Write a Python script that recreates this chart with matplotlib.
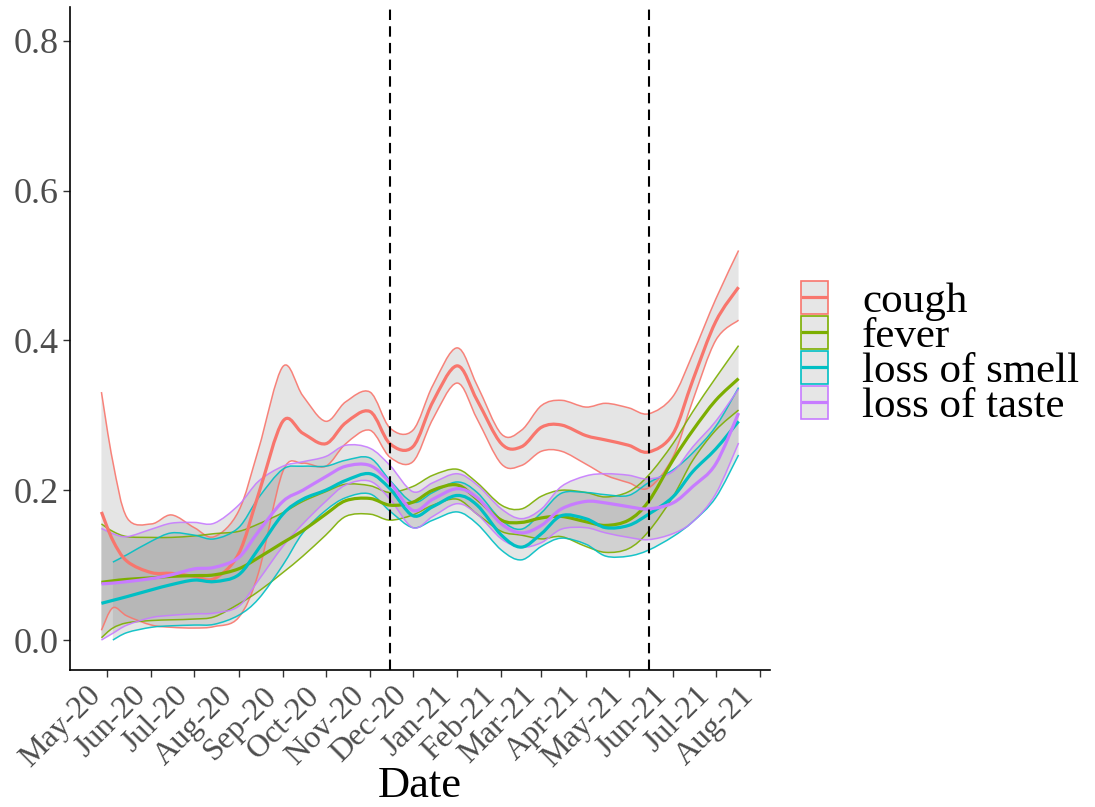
import numpy as np
import matplotlib
matplotlib.use("Agg")
import matplotlib.pyplot as plt
import matplotlib.dates as mdates
from matplotlib.patches import Rectangle, PathPatch
from matplotlib.lines import Line2D
from matplotlib.path import Path

plt.rcParams['font.family'] = ['Liberation Serif', 'DejaVu Serif']

# sample dates
dates = ["2020-04-27", "2020-05-05", "2020-05-15", "2020-06-01", "2020-06-15",
         "2020-07-01", "2020-07-15", "2020-08-01", "2020-08-15", "2020-09-01",
         "2020-09-15", "2020-10-01", "2020-10-15", "2020-11-01", "2020-11-15",
         "2020-12-01", "2020-12-15", "2021-01-01", "2021-01-15", "2021-02-01",
         "2021-02-15", "2021-03-01", "2021-03-15", "2021-04-01", "2021-04-15",
         "2021-05-01", "2021-05-15", "2021-06-01", "2021-06-15", "2021-07-01",
         "2021-07-17"]

cough_mean = [0.171, 0.133, 0.105, 0.090, 0.089, 0.085, 0.082, 0.115, 0.195, 0.292,
              0.276, 0.262, 0.290, 0.305, 0.262, 0.258, 0.318, 0.366, 0.320, 0.262,
              0.258, 0.284, 0.287, 0.273, 0.267, 0.260, 0.251, 0.275, 0.347, 0.425,
              0.471]
cough_upper = [0.331, 0.238, 0.163, 0.155, 0.167, 0.150, 0.138, 0.172, 0.255, 0.365,
               0.326, 0.292, 0.318, 0.331, 0.283, 0.280, 0.340, 0.390, 0.340, 0.275,
               0.280, 0.313, 0.320, 0.311, 0.316, 0.310, 0.302, 0.325, 0.382, 0.455,
               0.520]
cough_lower = [0.013, 0.043, 0.032, 0.020, 0.017, 0.016, 0.018, 0.030, 0.090, 0.225,
               0.236, 0.232, 0.262, 0.280, 0.244, 0.238, 0.295, 0.343, 0.295, 0.235,
               0.233, 0.252, 0.252, 0.235, 0.220, 0.210, 0.203, 0.244, 0.320, 0.400,
               0.427]

fever_mean = [0.077, 0.079, 0.081, 0.083, 0.085, 0.086, 0.087, 0.095, 0.110, 0.130,
              0.146, 0.168, 0.186, 0.189, 0.180, 0.184, 0.200, 0.207, 0.188, 0.160,
              0.157, 0.163, 0.165, 0.158, 0.153, 0.160, 0.185, 0.240, 0.280, 0.320,
              0.349]
fever_upper = [0.155, 0.145, 0.138, 0.137, 0.137, 0.139, 0.142, 0.145, 0.155, 0.170,
               0.185, 0.198, 0.208, 0.206, 0.197, 0.205, 0.220, 0.228, 0.210, 0.180,
               0.175, 0.192, 0.200, 0.197, 0.191, 0.198, 0.220, 0.262, 0.305, 0.350,
               0.393]
fever_lower = [0.003, 0.016, 0.023, 0.026, 0.027, 0.028, 0.031, 0.048, 0.065, 0.090,
               0.112, 0.140, 0.165, 0.168, 0.160, 0.167, 0.180, 0.188, 0.168, 0.145,
               0.140, 0.135, 0.138, 0.125, 0.117, 0.122, 0.145, 0.191, 0.240, 0.280,
               0.307]

smell_mean = [0.049, 0.053, 0.058, 0.067, 0.074, 0.080, 0.078, 0.087, 0.122, 0.168,
              0.188, 0.200, 0.213, 0.222, 0.202, 0.166, 0.178, 0.193, 0.180, 0.140,
              0.124, 0.142, 0.166, 0.162, 0.150, 0.153, 0.168, 0.191, 0.225, 0.255,
              0.292]
smell_upper = [np.nan, 0.104, 0.114, 0.132, 0.143, 0.140, 0.135, 0.150, 0.190, 0.228,
               0.232, 0.232, 0.240, 0.243, 0.213, 0.184, 0.197, 0.211, 0.197, 0.160,
               0.148, 0.170, 0.196, 0.197, 0.194, 0.193, 0.210, 0.227, 0.250, 0.285,
               0.337]
smell_lower = [np.nan, 0.000, 0.010, 0.017, 0.019, 0.020, 0.021, 0.033, 0.055, 0.100,
               0.143, 0.173, 0.190, 0.195, 0.172, 0.150, 0.160, 0.171, 0.155, 0.120,
               0.107, 0.125, 0.136, 0.128, 0.112, 0.112, 0.120, 0.138, 0.158, 0.190,
               0.247]

taste_mean = [0.075, 0.076, 0.078, 0.082, 0.087, 0.095, 0.097, 0.110, 0.145, 0.185,
              0.200, 0.218, 0.232, 0.233, 0.210, 0.173, 0.188, 0.202, 0.190, 0.155,
              0.143, 0.153, 0.175, 0.185, 0.183, 0.178, 0.175, 0.183, 0.205, 0.235,
              0.303]
taste_upper = [0.149, 0.142, 0.138, 0.148, 0.156, 0.157, 0.156, 0.180, 0.212, 0.232,
               0.238, 0.245, 0.260, 0.256, 0.233, 0.198, 0.210, 0.222, 0.207, 0.175,
               0.162, 0.175, 0.205, 0.219, 0.222, 0.220, 0.215, 0.225, 0.258, 0.292,
               0.335]
taste_lower = [0.000, 0.009, 0.020, 0.030, 0.033, 0.035, 0.036, 0.045, 0.080, 0.125,
               0.155, 0.185, 0.207, 0.212, 0.188, 0.150, 0.165, 0.182, 0.168, 0.135,
               0.124, 0.130, 0.148, 0.150, 0.143, 0.137, 0.134, 0.142, 0.158, 0.195,
               0.263]

labels = ["cough", "fever", "loss of smell", "loss of taste"]
colors = ["#F8766D", "#7CAE00", "#00BFC4", "#C77CFF"]
period_breaks = ["2020-11-15", "2021-05-15"]
month_ticks = ["2020-05-01", "2020-06-01", "2020-07-01", "2020-08-01", "2020-09-01",
               "2020-10-01", "2020-11-01", "2020-12-01", "2021-01-01", "2021-02-01",
               "2021-03-01", "2021-04-01", "2021-05-01", "2021-06-01", "2021-07-01",
               "2021-08-01"]

series = [(cough_mean, cough_lower, cough_upper),
          (fever_mean, fever_lower, fever_upper),
          (smell_mean, smell_lower, smell_upper),
          (taste_mean, taste_lower, taste_upper)]


def smooth_verts(x, y):
    # cubic bezier pieces through the read points (drawn by matplotlib's Path)
    p = np.column_stack([x, y])
    ext = np.vstack([p[0], p, p[-1]])
    verts = [p[0]]
    for i in range(len(p) - 1):
        p0, p1, p2, p3 = ext[i], ext[i + 1], ext[i + 2], ext[i + 3]
        verts += [p1 + (p2 - p0) / 6, p2 - (p3 - p1) / 6, p2]
    return verts


def curve_path(x, y):
    v = smooth_verts(x, y)
    codes = [Path.MOVETO] + [Path.CURVE4] * (len(v) - 1)
    return Path(v, codes)


def band_path(x, lo, hi):
    up = smooth_verts(x, hi)
    dn = smooth_verts(x[::-1], lo[::-1])
    v = up + dn + [up[0]]
    codes = ([Path.MOVETO] + [Path.CURVE4] * (len(up) - 1) +
             [Path.LINETO] + [Path.CURVE4] * (len(dn) - 1) + [Path.CLOSEPOLY])
    return Path(v, codes)


d = np.array(dates, dtype="datetime64[D]")

fig = plt.figure(figsize=(10.95, 8.07), dpi=100)
ax = fig.add_axes([70 / 1095, 1 - 670 / 807, 700 / 1095, 663 / 807])
ax.set_xlim(np.datetime64("2020-04-05"), np.datetime64("2021-08-08"))
xn = mdates.date2num(d)

for (m, lo, hi), col in zip(series, colors):
    lo = np.array(lo, dtype=float)
    hi = np.array(hi, dtype=float)
    m = np.array(m, dtype=float)
    ok = ~np.isnan(lo)
    ax.add_patch(PathPatch(band_path(xn[ok], lo[ok], hi[ok]), facecolor="#999999",
                           alpha=0.25, lw=0, zorder=1))
    for b in (lo, hi):
        ax.add_patch(PathPatch(curve_path(xn[ok], b[ok]), fill=False, edgecolor=col,
                               lw=1.1, alpha=0.9, zorder=2))
    ax.add_patch(PathPatch(curve_path(xn, m), fill=False, edgecolor=col, lw=2.3,
                           zorder=3, capstyle="butt"))

for b in period_breaks:
    ax.axvline(np.datetime64(b), color="black", ls=(0, (5, 3)), lw=1.5, zorder=4)

ax.set_xlim(np.datetime64("2020-04-05"), np.datetime64("2021-08-08"))
ax.set_ylim(-0.04, 0.845)
ax.set_yticks([0.0, 0.2, 0.4, 0.6, 0.8])
ax.set_yticklabels(["0.0", "0.2", "0.4", "0.6", "0.8"])
ax.set_xticks(np.array(month_ticks, dtype="datetime64[D]"))
ax.xaxis.set_major_formatter(mdates.DateFormatter("%b-%y"))

for s in ["top", "right"]:
    ax.spines[s].set_visible(False)
for s in ["left", "bottom"]:
    ax.spines[s].set_linewidth(1.2)
ax.tick_params(axis="both", length=5, width=1.0, color="#333333",
               labelcolor="#4d4d4d")
ax.tick_params(axis="y", labelsize=26, pad=3)
ax.tick_params(axis="x", labelsize=23, pad=3)
plt.setp(ax.get_xticklabels(), rotation=45, ha="right", va="top")

W, H = 1095, 807
# axis title placed under the rotated month labels
fig.text(420 / W, 1 - 797 / H, "Date", fontsize=32, color="black",
         ha="center", va="baseline")

# legend drawn by hand to match the key boxes
for i, (lab, col) in enumerate(zip(labels, colors)):
    top = 280 + 35 * i
    fig.add_artist(Rectangle((801 / W, 1 - (top + 34) / H), 27 / W, 33 / H,
                             transform=fig.transFigure, facecolor="#e6e6e6",
                             edgecolor=col, lw=1.2))
    yc = 1 - (top + 17) / H
    fig.add_artist(Line2D([803 / W, 826 / W], [yc, yc], transform=fig.transFigure,
                          color=col, lw=2.3))
    fig.text(862 / W, 1 - (top + 32) / H, lab, fontsize=31, color="black",
             va="baseline", ha="left")

fig.savefig("out.png", dpi=100)
